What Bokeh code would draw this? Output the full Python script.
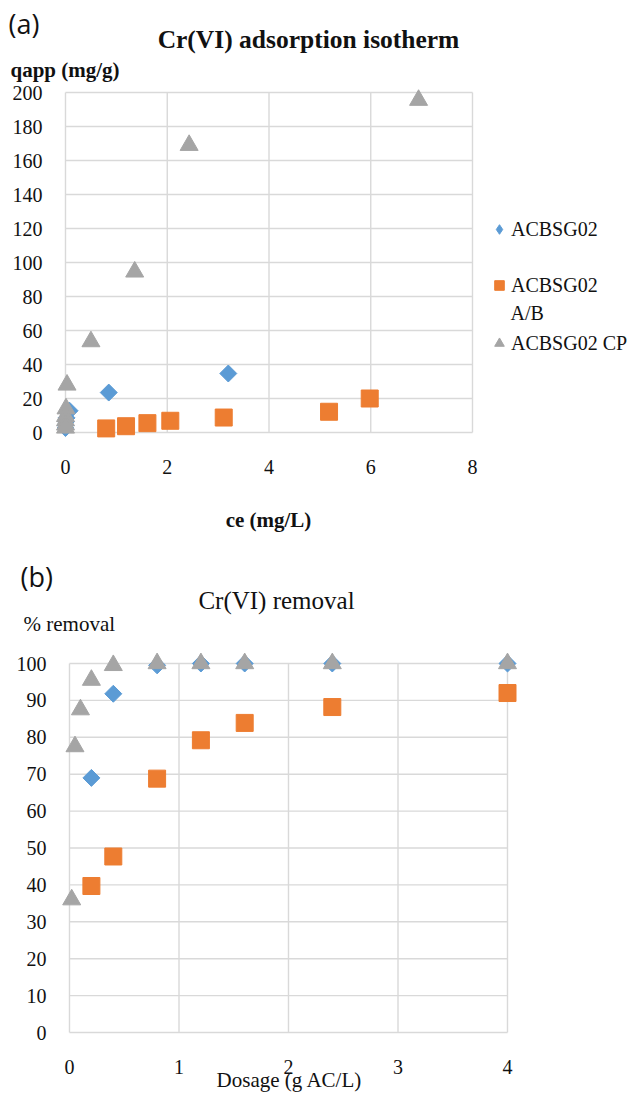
import numpy as np
from bokeh.plotting import figure
from bokeh.models import Range1d, FixedTicker, Label, Legend, LegendItem
from bokeh.layouts import column
from bokeh.embed import file_html
from bokeh.resources import INLINE

# ---------------- data ----------------
series_names = ["ACBSG02", "ACBSG02 A/B", "ACBSG02 CP"]
colors = ["#5B9BD5", "#ED7D31", "#A5A5A5"]

# (a) adsorption isotherm: ce (mg/L) vs qapp (mg/g)
iso_blue_ce = [3.20, 0.85, 0.08, 0.02, 0.01, 0.0, 0.0]
iso_blue_q = [34.7, 23.5, 12.8, 8.6, 6.4, 4.3, 2.6]
iso_orange_ce = [5.98, 5.18, 3.11, 2.06, 1.61, 1.19, 0.80]
iso_orange_q = [20.0, 12.2, 8.8, 6.9, 5.5, 3.7, 2.4]
iso_gray_ce = [6.94, 2.43, 1.36, 0.50, 0.03, 0.01, 0.0, 0.0, 0.0, 0.0]
iso_gray_q = [195.5, 169.0, 94.5, 53.5, 28.0, 14.0, 9.5, 7.0, 4.5, 2.7]

# (b) removal: dosage (g AC/L) vs % removal
rem_blue_dose = [0.2, 0.4, 0.8, 1.2, 1.6, 2.4, 4.0]
rem_blue_pct = [69.0, 91.8, 99.5, 100.0, 100.0, 100.0, 100.0]
rem_orange_dose = [0.2, 0.4, 0.8, 1.2, 1.6, 2.4, 4.0]
rem_orange_pct = [39.7, 47.7, 68.8, 79.2, 83.9, 88.2, 92.0]
rem_gray_dose = [0.02, 0.05, 0.1, 0.2, 0.4, 0.8, 1.2, 1.6, 2.4, 4.0]
rem_gray_pct = [36.0, 77.5, 87.5, 95.5, 99.5, 100.0, 100.0, 100.0, 100.0, 100.0]

iso_x_ticks = [0, 2, 4, 6, 8]
iso_y_ticks = [0, 20, 40, 60, 80, 100, 120, 140, 160, 180, 200]
rem_x_ticks = [0, 1, 2, 3, 4]
rem_y_ticks = [0, 10, 20, 30, 40, 50, 60, 70, 80, 90, 100]

SERIF = "Liberation Serif"
GRID = "#D9D9D9"
TXT = "#111111"
W = 635


def make_panel(x_ticks, y_ticks, gx0, gx1, gy_top, gy_bot, fig_top, fig_h):
    """Frame covers the whole canvas; gx0/gx1 = page x of first/last x tick,
    gy_top/gy_bot = page y of last/first y tick."""
    xs = (gx1 - gx0) / (x_ticks[-1] - x_ticks[0])
    ys = (gy_bot - gy_top) / (y_ticks[-1] - y_ticks[0])
    top_c = gy_top - fig_top
    bot_c = gy_bot - fig_top
    p = figure(
        width=W, height=fig_h, min_border=0,
        x_range=Range1d(x_ticks[0] - gx0 / xs, x_ticks[-1] + (W - gx1) / xs),
        y_range=Range1d(y_ticks[0] - (fig_h - bot_c) / ys, y_ticks[-1] + top_c / ys),
        output_backend="svg", toolbar_location=None,
        background_fill_color="white", border_fill_color="white",
    )
    p.outline_line_color = None
    p.grid.grid_line_color = None
    for ax in (p.xaxis, p.yaxis):
        ax.axis_line_color = None
        ax.major_tick_line_color = None
        ax.minor_tick_line_color = None
        ax.major_tick_out = 0
        ax.major_tick_in = 0
        ax.major_label_text_font = SERIF
        ax.major_label_text_font_size = "20px"
        ax.major_label_text_color = TXT
    p.xaxis.ticker = FixedTicker(ticks=x_ticks)
    p.yaxis.ticker = FixedTicker(ticks=y_ticks)
    p.xaxis.fixed_location = y_ticks[0]
    p.yaxis.fixed_location = x_ticks[0]
    p.xaxis.major_label_standoff = 27
    p.yaxis.major_label_standoff = 23
    # gridlines spanning only the gridded area
    nx, ny = len(x_ticks), len(y_ticks)
    p.segment(x0=x_ticks, y0=[y_ticks[0]] * nx, x1=x_ticks, y1=[y_ticks[-1]] * nx,
              line_color=GRID, line_width=1.4)
    p.segment(x0=[x_ticks[0]] * ny, y0=y_ticks, x1=[x_ticks[-1]] * ny, y1=y_ticks,
              line_color=GRID, line_width=1.4)
    frame = dict(FL=0, FB=fig_top + fig_h)
    return p, frame


def add_label(p, fr, px, py, text, size, bold=False, align="left", baseline="middle", font=SERIF):
    p.add_layout(Label(x=px - fr["FL"], y=fr["FB"] - py, x_units="screen", y_units="screen",
                       text=text, text_font=font, text_font_size=f"{size}px",
                       text_font_style="bold" if bold else "normal",
                       text_align=align, text_baseline=baseline, text_color=TXT))


def add_series(p, xs, ys):
    # slim diamond underneath the rotated square: hidden in the plot, used for the legend key
    rd = p.scatter(xs[0], ys[0], marker="diamond", size=11,
                   fill_color=colors[0], line_color=colors[0])
    rb = p.scatter(xs[0], ys[0], marker="square", angle=np.pi / 4, size=12,
                   fill_color=colors[0], line_color=colors[0])
    ro = p.scatter(xs[1], ys[1], marker="square", size=17,
                   fill_color=colors[1], line_color=colors[1])
    rg = p.scatter(xs[2], ys[2], marker="triangle", size=18,
                   fill_color=colors[2], line_color=colors[2])
    return rd, ro, rg


GW = 24
def add_legend(p, fr, renderer, label, cx, cy):
    leg = Legend(items=[LegendItem(label=label, renderers=[renderer])],
                 location=(cx - GW / 2 - fr["FL"], fr["FB"] - (cy + GW / 2)),
                 glyph_width=GW, glyph_height=GW, label_height=GW, label_standoff=0,
                 padding=0, margin=0, spacing=0, border_line_color=None,
                 background_fill_alpha=0, label_text_font=SERIF,
                 label_text_font_size="20px", label_text_color=TXT)
    p.add_layout(leg)


# ---------------- (a) isotherm ----------------
pa, fa = make_panel(iso_x_ticks, iso_y_ticks, 65, 472, 92, 432, fig_top=0, fig_h=556)
rd, ro, rg = add_series(pa, [iso_blue_ce, iso_orange_ce, iso_gray_ce],
                        [iso_blue_q, iso_orange_q, iso_gray_q])

add_label(pa, fa, 8, 23, "(a)", 27, font="Open Sans")
add_label(pa, fa, 308, 39, "Cr(VI) adsorption isotherm", 25.5, bold=True, align="center")
add_label(pa, fa, 10, 69, "qapp (mg/g)", 21, bold=True)
add_label(pa, fa, 268, 519, "ce (mg/L)", 21, bold=True, align="center")

add_legend(pa, fa, rd, series_names[0], 499, 229)
add_legend(pa, fa, ro, "ACBSG02", 499, 285)
add_label(pa, fa, 510, 312, "A/B", 20)
add_legend(pa, fa, rg, series_names[2], 499, 343)

# ---------------- (b) removal ----------------
pb, fb = make_panel(rem_x_ticks, rem_y_ticks, 69, 507, 663, 1032, fig_top=556, fig_h=537)
add_series(pb, [rem_blue_dose, rem_orange_dose, rem_gray_dose],
           [rem_blue_pct, rem_orange_pct, rem_gray_pct])

add_label(pb, fb, 20, 576, "(b)", 27, font="Open Sans")
add_label(pb, fb, 276, 600, "Cr(VI) removal", 25, align="center")
add_label(pb, fb, 23, 623, "% removal", 21)
add_label(pb, fb, 289, 1079, "Dosage (g AC/L)", 21, align="center")

layout = column(pa, pb, spacing=0)
open("out.html", "w").write(file_html(layout, INLINE))
